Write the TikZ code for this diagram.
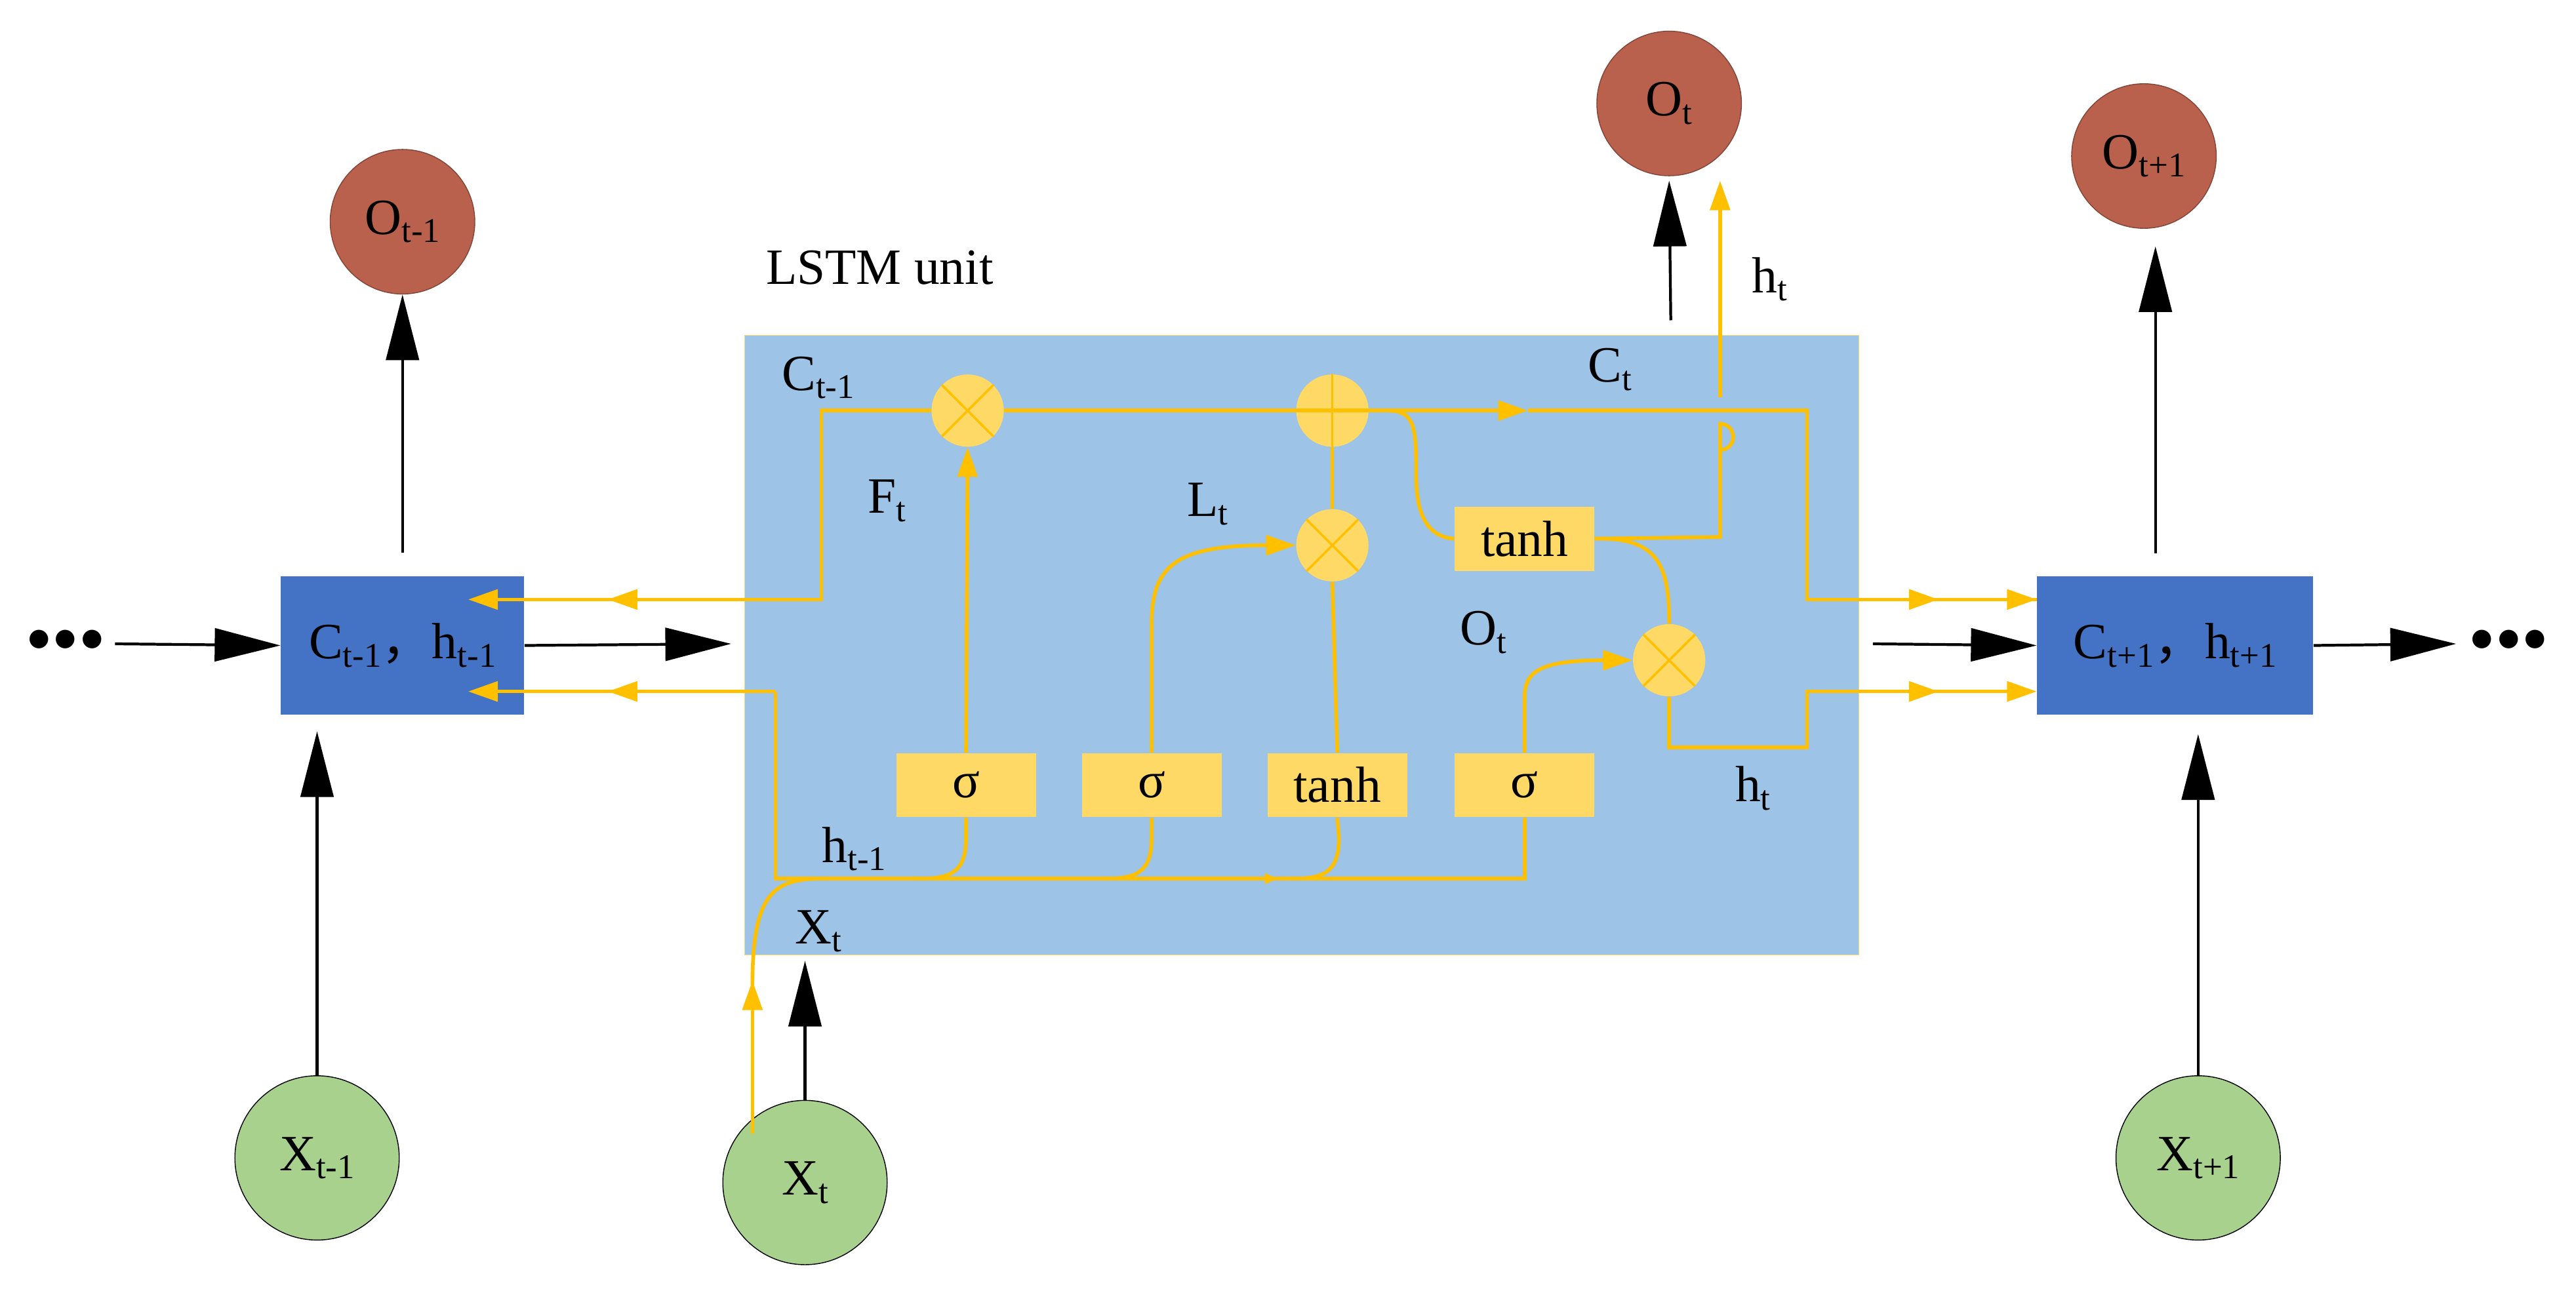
\documentclass[tikz,border=0pt]{standalone}
\usepackage{fontspec}
\setmainfont{Liberation Serif}
\newfontfamily\cjk{Noto Sans CJK SC}
\usetikzlibrary{arrows.meta}
\definecolor{lstm}{HTML}{9DC3E6}
\definecolor{cellb}{HTML}{4472C4}
\definecolor{outc}{HTML}{B9614D}
\definecolor{inc}{HTML}{A9D18E}
\definecolor{yl}{HTML}{FFC000}
\definecolor{gate}{HTML}{FFD966}
\newcommand{\lsub}[1]{\raisebox{-0.35ex}{\fontsize{15}{15}\selectfont #1}}
\tikzset{
  lab/.style={font=\fontsize{22}{26}\selectfont,inner sep=0pt},
  outn/.style={circle,fill=outc,draw=outc!70!black,line width=0.4pt,minimum size=2.2cm,lab},
  inn/.style={circle,fill=inc,draw=black,line width=0.4pt,minimum size=2.5cm,lab},
  cellbox/.style={rectangle,fill=cellb,minimum width=3.7cm,minimum height=2.1cm,lab},
  gatebox/.style={rectangle,fill=gate,minimum width=2.125cm,minimum height=0.975cm,lab},
  op/.style={circle,fill=gate,minimum size=1.1cm,inner sep=0pt},
  blk/.style={black,line width=1.2pt,-{Triangle[length=1cm,width=0.5cm]}},
  ylw/.style={yl,line width=1.6pt},
  ya/.style={ylw,-{Triangle[length=0.45cm,width=0.3cm]}},
  yas/.style={ylw,-{Triangle[length=0.2cm,width=0.15cm]}},
  cr/.style={yl,line width=1pt},
}
\begin{document}
\begin{tikzpicture}[x=0.025cm,y=-0.025cm]
\useasboundingbox (0,0) rectangle (1568,795);
\fill[white] (0,0) rectangle (1568,795);
% LSTM box
\node[fill=lstm,draw=yl!60,line width=0.3pt,minimum width=16.95cm,minimum height=9.425cm,anchor=north west,inner sep=0pt] (unit) at (453,204) {};
\node[lab,anchor=west] (ulab) at (466,163) {LSTM unit};
% cell boxes
\node[cellbox] (cl) at (245,393) {C\lsub{t-1}{\cjk ，}h\lsub{t-1}};
\node[cellbox,minimum width=4.2cm] (cr) at (1324,393) {C\lsub{t+1}{\cjk ，}h\lsub{t+1}};
% outputs and inputs
\node[outn] (o1) at (245,135) {O\lsub{t-1}};
\node[outn] (o2) at (1016,63) {O\lsub{t}};
\node[outn] (o3) at (1305,95) {O\lsub{t+1}};
\node[inn] (x1) at (193,705) {X\lsub{t-1}};
\node[inn] (x2) at (490,720) {X\lsub{t}};
\node[inn] (x3) at (1338,705) {X\lsub{t+1}};
\node[lab] (d1) at (40,390) {\textbf{$\bullet\!\bullet\!\bullet$}};
\node[lab] (d2) at (1527,390) {\textbf{$\bullet\!\bullet\!\bullet$}};
% black arrows
\coordinate (a1) at (70,392); \coordinate (a2) at (445,392);
\coordinate (a3) at (1140,392); \coordinate (a4) at (1495,392);
\draw[blk] (a1) -- (cl.west);
\draw[blk] (cl.east) -- (a2);
\draw[blk] (a3) -- (cr.west);
\draw[blk] (cr.east) -- (a4);
\draw[blk] (cl.north) ++(0,-14) -- (o1.south);
\draw[blk] (x1.north) -- ([yshift=-0.25cm]cl.south -| x1);
\draw[blk] (x2.north) -- (490,585);
\coordinate (ob) at (1017,195);
\draw[blk] (ob) -- (1016,110);
\draw[blk] (1312,337) -- (1312,150);
\draw[blk] (x3.north) -- (1338,447);
% gates
\node[op] (m1) at (589,250) {};
\node[op] (pl) at (811,250) {};
\node[op] (m2) at (811,332) {};
\node[op] (m3) at (1016,402) {};
\foreach \n in {m1,m2,m3}{
  \draw[cr] (\n.north east) -- (\n.south west);
  \draw[cr] (\n.north west) -- (\n.south east);}
\node[gatebox] (s1) at (588,478) {σ};
\node[gatebox] (s2) at (701,478) {σ};
\node[gatebox] (th) at (814,478) {tanh};
\node[gatebox] (s3) at (928,478) {σ};
\node[gatebox] (t2) at (928,328) {tanh};
% cell state line
\draw[ylw] (1240,365) -- (1100,365) -- (1100,250) -- (930,250);
\draw[ya] (m1.east) -- (930,250);
\draw[ylw] (m1.west) -- (500,250) -- (500,365) -- (370,365);
\draw[ya] (380,365) -- (285,365);
\draw[ya] (460,365) -- (370,365);
\draw[ya] (1100,365) -- (1180,365);
\draw[ya] (1180,365) -- (cr.west |- 0,365);
\draw[cr] (pl.north) -- (pl.south);
% h line
\draw[ya] (472,421) -- (370,421);
\draw[ya] (380,421) -- (285,421);
\draw[ylw] (472,421) -- (472,535) -- (928,535) -- (s3.south);
\draw[yas] (760,535) -- (778,535);
\draw[ylw] (s1.south) -- (588,510) .. controls (588,530) and (580,535) .. (560,535);
\draw[ylw] (s2.south) -- (701,510) .. controls (701,530) and (693,535) .. (673,535);
\draw[ylw] (th.south) -- (815,510) .. controls (815,530) and (807,535) .. (787,535);
% X_t input
\draw[ya] (458,690) -- (458,597);
\draw[ylw] (458,600) .. controls (458,545) and (470,535) .. (500,535);
% gate connections
\draw[ya] (s1.north) -- (m1.south);
\draw[ylw] (th.north) -- (m2.south);
\draw[ylw] (m2.north) -- (pl.south);
\draw[ya] (s2.north) -- (701,380) .. controls (701,345) and (715,332) .. (m2.west);
\draw[ya] (s3.north) -- (928,425) .. controls (928,410) and (935,402) .. (m3.west);
\draw[ylw] (845,250) .. controls (862,250) and (862,262) .. (862,290) .. controls (862,315) and (870,327) .. (t2.west);
\draw[ylw] (t2.east) .. controls (1010,327) and (1016,345) .. (m3.north);
\draw[ylw] (t2.east) -- (1047,327) -- (1047,258) arc[start angle=-90,end angle=90,radius=8] ;
\draw[ya] (1047,242) -- (1047,110);
\draw[ylw] (m3.south) -- (1016,455) -- (1100,455) -- (1100,421) -- (1180,421);
\draw[ya] (1100,421) -- (1180,421);
\draw[ya] (1180,421) -- (cr.west |- 0,421);
% labels
\node[lab] (lc1) at (498,230) {C\lsub{t-1}};
\node[lab] (lf) at (540,305) {F\lsub{t}};
\node[lab] (ll) at (735,307) {L\lsub{t}};
\node[lab] (lct) at (980,225) {C\lsub{t}};
\node[lab] (lht) at (1077,170) {h\lsub{t}};
\node[lab] (lot) at (903,385) {O\lsub{t}};
\node[lab] (lh2) at (1067,480) {h\lsub{t}};
\node[lab] (lh1) at (520,517) {h\lsub{t-1}};
\node[lab] (lx) at (498,567) {X\lsub{t}};
\end{tikzpicture}
\end{document}
